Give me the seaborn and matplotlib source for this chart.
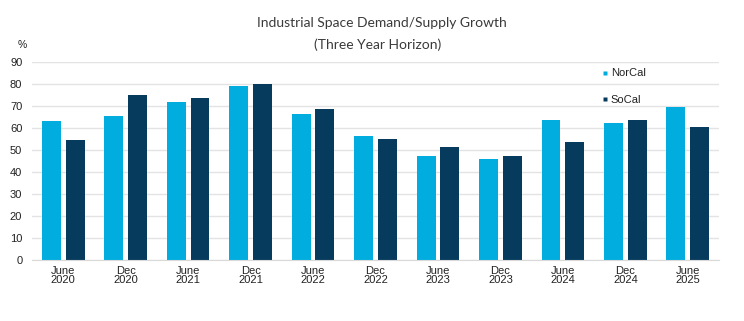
import matplotlib
matplotlib.use("Agg")
import matplotlib.pyplot as plt
import seaborn as sns
import pandas as pd
from matplotlib.lines import Line2D

periods = ["June\n2020", "Dec\n2020", "June\n2021", "Dec\n2021", "June\n2022", "Dec\n2022",
           "June\n2023", "Dec\n2023", "June\n2024", "Dec\n2024", "June\n2025"]
norcal = [63.0, 65.3, 71.8, 79.1, 66.4, 56.4, 47.1, 45.8, 63.6, 62.1, 69.5]
socal = [54.5, 75.2, 73.6, 80.1, 68.6, 55.0, 51.2, 47.1, 53.5, 63.6, 60.6]
series = ["NorCal", "SoCal"]
colors = {"NorCal": "#00ADDE", "SoCal": "#073B5D"}

df = pd.DataFrame({
    "period": periods * 2,
    "value": norcal + socal,
    "region": ["NorCal"] * len(periods) + ["SoCal"] * len(periods),
})

sns.set_style("white")
plt.rcParams["font.family"] = ["Liberation Sans", "DejaVu Sans"]

fig = plt.figure(figsize=(7.44, 3.21), dpi=100)
ax = fig.add_axes([32 / 744, 1 - 260 / 321, (719 - 32) / 744, (260 - 62) / 321])

sns.barplot(data=df, x="period", y="value", hue="region", hue_order=series,
            palette=colors, width=0.76, gap=0.2, ax=ax, legend=False,
            saturation=1, edgecolor="none")

ax.set_xlim(-0.5, len(periods) - 0.5)
ax.set_ylim(0, 90)
ax.set_yticks(range(0, 91, 10))
ax.yaxis.grid(True, color="#E3E3E3", linewidth=1)
ax.set_axisbelow(True)
for s in ["top", "right", "left"]:
    ax.spines[s].set_visible(False)
ax.spines["bottom"].set_color("#D9D9D9")
ax.set_xlabel("")
ax.set_ylabel("")
ax.tick_params(axis="y", length=0, pad=7, labelsize=8, labelcolor="#222222")
ax.tick_params(axis="x", which="major", length=0, pad=4, labelsize=8, labelcolor="#222222")
ax.set_xticks([i - 0.5 for i in range(len(periods) + 1)], minor=True)
ax.tick_params(axis="x", which="minor", length=16, width=0.8, color="#DDDDDD")
for lab in ax.get_xticklabels():
    lab.set_linespacing(0.95)

fig.text(18 / 744, 1 - 45 / 321, "%", fontsize=7.5, color="#222222", ha="left", va="center")

fig.text(382 / 744, 1 - 23 / 321, "Industrial Space Demand/Supply Growth", ha="center", va="center",
         fontsize=10, color="#3A3A3A", family=["Lato", "DejaVu Sans"])
fig.text(378 / 744, 1 - 45 / 321, "(Three Year Horizon)", ha="center", va="center",
         fontsize=10, color="#3A3A3A", family=["Lato", "DejaVu Sans"])

handles = [Line2D([], [], marker="s", linestyle="none", markersize=3.5,
                  markerfacecolor=colors[s], markeredgecolor="none") for s in series]
leg = ax.legend(handles, series, loc="upper left", bbox_to_anchor=((598 - 32) / 687, 1 - (64 - 62) / 198),
                frameon=False, fontsize=8, handlelength=0.5, handletextpad=0.25,
                labelspacing=1.45, borderaxespad=0)
for t in leg.get_texts():
    t.set_color("#222222")

fig.savefig("out.png", dpi=100)
